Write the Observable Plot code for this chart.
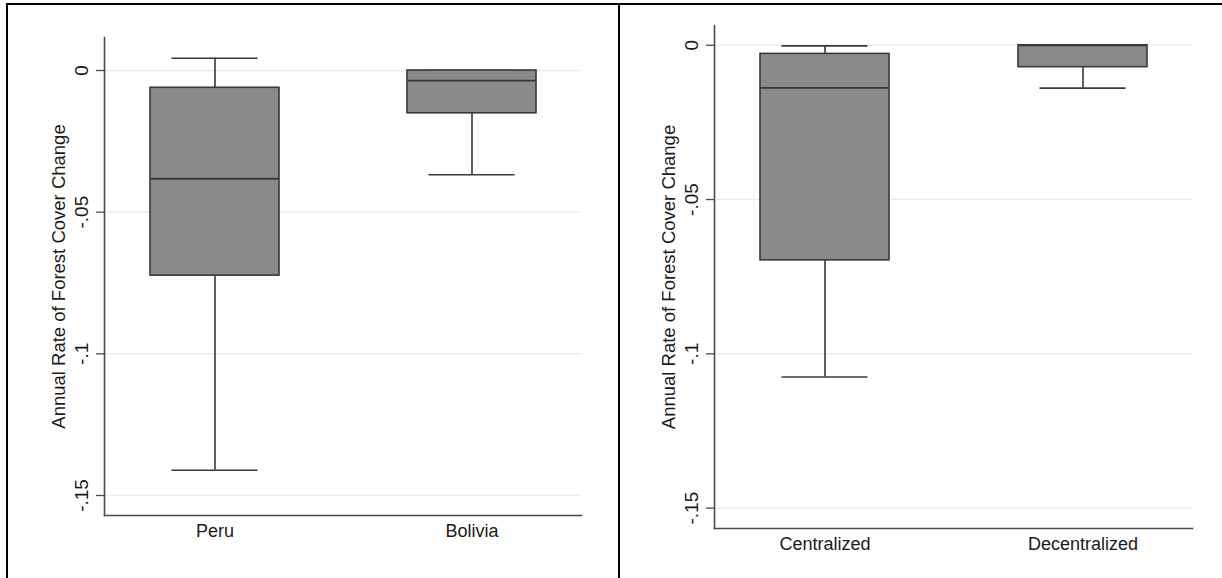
<!DOCTYPE html>
<html><head><meta charset="utf-8">
<script src="https://cdn.jsdelivr.net/npm/d3@7"></script>
<script src="https://cdn.jsdelivr.net/npm/@observablehq/plot@0.6"></script>
<style>
body{margin:0;background:#fff;}
#wrap{position:relative;width:1222px;height:578px;overflow:hidden;font-family:'Liberation Sans',Arial,sans-serif;background:#fff;}
.line{position:absolute;background:#000;}
.panel{position:absolute;top:0;}
#wrap svg g[aria-label="y-axis label"] text{font-size:18.5px;}
</style></head><body>
<div id="wrap">
 <div class="line" style="left:6px;top:3px;width:1216px;height:1.5px"></div>
 <div class="line" style="left:6px;top:3px;width:2px;height:575px"></div>
 <div class="line" style="left:618px;top:3px;width:2px;height:575px"></div>
 <div id="p1" class="panel" style="left:0"></div>
 <div id="p2" class="panel" style="left:619px"></div>
</div>
<script>
// Left panel: by country
const regions = ["Peru", "Bolivia"];
const regionHi = [0.0043, 0];
const regionQ3 = [-0.0061, 0];
const regionMed = [-0.0382, -0.0036];
const regionQ1 = [-0.0724, -0.0151];
const regionLo = [-0.1411, -0.0368];

// Right panel: by governance
const governance = ["Centralized", "Decentralized"];
const govHi = [-0.0002, 0];
const govQ3 = [-0.0028, 0];
const govMed = [-0.0138, 0];
const govQ1 = [-0.0697, -0.0071];
const govLo = [-0.1075, -0.0139];

const yTicks = [0, -0.05, -0.1, -0.15];
const yTickLabels = ["0", "-.05", "-.1", "-.15"];
const yTitle = "Annual Rate of Forest Cover Change";

const ink = "#383838";
const axisInk = "#4a4a4a";

function panel(cats, hi, q3, med, q1, lo, o) {
  const rows = cats.map((c, i) => ({cat: c, hi: hi[i], q3: q3[i], med: med[i], q1: q1[i], lo: lo[i]}));
  return Plot.plot({
    width: o.width, height: 578,
    marginLeft: o.ml, marginRight: o.mr, marginTop: o.mt, marginBottom: o.mb,
    style: {fontFamily: "'Liberation Sans', Arial, sans-serif", fontSize: "18px", color: "#1a1a1a", background: "transparent"},
    x: {domain: cats, paddingInner: 0.5, paddingOuter: 0.175, label: null},
    y: {domain: o.yDomain, label: null},
    marks: [
      Plot.gridY(yTicks, {stroke: "#ebebeb", strokeOpacity: 1, strokeWidth: 1.5}),
      Plot.frame({anchor: "left", stroke: axisInk, strokeWidth: 1.6}),
      Plot.frame({anchor: "bottom", stroke: axisInk, strokeWidth: 1.6}),
      Plot.axisY({ticks: yTicks, tickFormat: d => yTickLabels[yTicks.indexOf(d)], tickRotate: -90,
        tickSize: 8, tickPadding: 9, fontSize: 19, stroke: axisInk, strokeWidth: 1.3,
        label: yTitle, labelArrow: "none", labelAnchor: "center", labelOffset: 53}),
      Plot.axisX({tickSize: 0, tickPadding: 9, fontSize: 18, label: null}),
      Plot.ruleX(rows, {x: "cat", y1: "lo", y2: "hi", stroke: ink, strokeWidth: 1.6}),
      Plot.tickY(rows, {x: "cat", y: "hi", stroke: ink, strokeWidth: 1.6, insetLeft: 21.5, insetRight: 21.5}),
      Plot.tickY(rows, {x: "cat", y: "lo", stroke: ink, strokeWidth: 1.6, insetLeft: 21.5, insetRight: 21.5}),
      Plot.barY(rows, {x: "cat", y1: "q1", y2: "q3", fill: "#8a8a8a", stroke: ink, strokeWidth: 1.6}),
      Plot.tickY(rows, {x: "cat", y: "med", stroke: ink, strokeWidth: 1.8})
    ]
  });
}

document.getElementById("p1").append(panel(regions, regionHi, regionQ3, regionMed, regionQ1, regionLo,
  {width: 619, ml: 104, mr: 38, mt: 37, mb: 63, yDomain: [-0.15706, 0.01165]}));
document.getElementById("p2").append(panel(governance, govHi, govQ3, govMed, govQ1, govLo,
  {width: 603, ml: 95, mr: 30, mt: 25, mb: 50, yDomain: [-0.1566, 0.0064]}));
</script>
</body></html>
